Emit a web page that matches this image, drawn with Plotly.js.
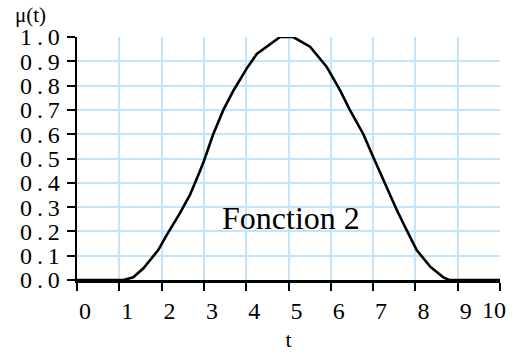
<!DOCTYPE html>
<html>
<head>
<meta charset="utf-8">
<script src="https://cdn.plot.ly/plotly-3.0.1.min.js"></script>
<style>
html,body{margin:0;padding:0;background:#fff;}
#chart{width:512px;height:354px;}
</style>
</head>
<body>
<div id="chart"></div>
<script>
// Data
const t  = [0, 1.1, 1.33, 1.57, 1.92, 2.12, 2.43, 2.67, 2.91, 3.0, 3.22, 3.46, 3.7, 4.01, 4.25, 4.48, 4.8, 5.11, 5.51, 5.9, 6.22, 6.45, 6.77, 7.0, 7.24, 7.56, 7.79, 8.03, 8.35, 8.66, 8.8, 10];
const mu = [0, 0, 0.011, 0.048, 0.123, 0.185, 0.274, 0.35, 0.45, 0.49, 0.60, 0.70, 0.78, 0.87, 0.93, 0.96, 1.0, 1.0, 0.96, 0.878, 0.78, 0.70, 0.60, 0.507, 0.41, 0.288, 0.206, 0.123, 0.055, 0.011, 0, 0];

const xTickVals = [0, 1, 2, 3, 4, 5, 6, 7, 8, 9];
const xLastTick = [10];
const yTickVals = [0, 0.1, 0.2, 0.3, 0.4, 0.5, 0.6, 0.7, 0.8, 0.9, 1.0];
// labels spaced around the decimal point as in the reference
const yTickText = yTickVals.map(v => v.toFixed(1).replace(".", "\u2009.\u2009"));

const labelText = "Fonction 2";
const yTitle = "μ(t)";
const xTitle = "t";

const font = '"Liberation Serif", "Times New Roman", serif';
const grid = "#c3e5fb";

const common = {
  showgrid: true, gridcolor: grid, gridwidth: 2,
  zeroline: false,
  showline: true, linecolor: "#000", linewidth: 2.5,
  ticks: "outside", ticklen: 8, tickwidth: 2, tickcolor: "#000",
  tickfont: {family: font, size: 24, color: "#000"},
  fixedrange: true
};

const traces = [{
  x: t, y: mu, type: "scatter", mode: "lines",
  line: {color: "#000", width: 2.6},
  hoverinfo: "skip", showlegend: false
}, {
  x: [], y: [], xaxis: "x2", type: "scatter", showlegend: false
}];

const layout = {
  width: 512, height: 354,
  margin: {l: 77, r: 12, t: 37, b: 74},
  paper_bgcolor: "#fff", plot_bgcolor: "#fff",
  showlegend: false,
  font: {family: font, color: "#000"},
  xaxis: Object.assign({}, common, {
    range: [0, 10], tickmode: "array", tickvals: xTickVals.concat(xLastTick),
    ticktext: xTickVals.map(String).concat([""]),
    ticklabelshift: 8,
    title: {text: xTitle, font: {family: font, size: 22, color: "#000"}, standoff: 9}
  }),
  xaxis2: {
    overlaying: "x", anchor: "y", side: "bottom", range: [0, 10],
    tickmode: "array", tickvals: xLastTick, ticktext: xLastTick.map(String),
    ticks: "outside", ticklen: 8, tickwidth: 2, tickcolor: "rgba(0,0,0,0)",
    showgrid: false, zeroline: false, showline: false,
    ticklabelshift: -6,
    tickfont: {family: font, size: 24, color: "#000"}, fixedrange: true
  },
  yaxis: Object.assign({}, common, {
    range: [0, 1.0], tickmode: "array", tickvals: yTickVals, ticktext: yTickText,
    tickfont: {family: font, size: 24, color: "#000"},
    ticklabelstandoff: 2
  }),
  annotations: [{
    text: labelText, x: 5.06, y: 0.255, xref: "x", yref: "y",
    xanchor: "center", yanchor: "middle", showarrow: false,
    font: {family: font, size: 32, color: "#000"}
  }, {
    text: yTitle, x: -0.109, y: 1.09, xref: "paper", yref: "paper",
    xanchor: "center", yanchor: "middle", showarrow: false,
    font: {family: font, size: 21, color: "#000"}
  }]
};

Plotly.newPlot("chart", traces, layout, {staticPlot: true, displayModeBar: false});
</script>
</body>
</html>
